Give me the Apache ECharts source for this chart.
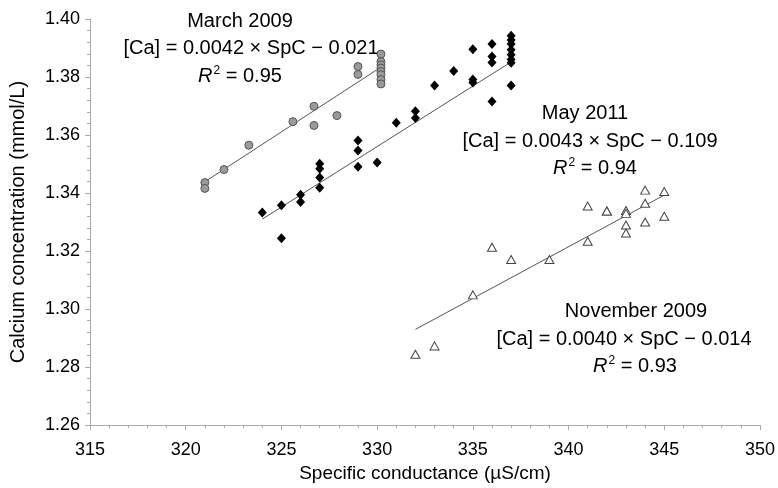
<!DOCTYPE html>
<html>
<head>
<meta charset="utf-8">
<script src="https://cdn.jsdelivr.net/npm/echarts@6/dist/echarts.min.js"></script>
<style>html,body{margin:0;padding:0;background:#fff;}#c{width:778px;height:488px;}</style>
</head>
<body>
<div id="c"></div>
<script>
// March 2009 (grey circles)
var marchX = [321, 321, 322, 323.3, 325.6, 326.7, 326.7, 327.9, 329, 329, 330.2, 330.2, 330.2, 330.2, 330.2, 330.2, 330.2, 330.2];
var marchY = [1.3436, 1.3416, 1.3481, 1.3565, 1.3646, 1.3699, 1.3633, 1.3667, 1.3836, 1.3809, 1.3879, 1.3853, 1.3842, 1.3831, 1.3819, 1.3808, 1.3791, 1.3776];
// May 2011 (black diamonds)
var mayX = [324, 325, 325, 326, 326, 327, 327, 327, 327, 329, 329, 329, 330, 331, 332, 332, 333, 334, 335, 335, 335, 336, 336, 336, 336, 337, 337, 337, 337, 337, 337, 337, 337];
var mayY = [1.3333, 1.3358, 1.3244, 1.3394, 1.3369, 1.3501, 1.3484, 1.3454, 1.3418, 1.3581, 1.3547, 1.3491, 1.3505, 1.3642, 1.3682, 1.3659, 1.3771, 1.3821, 1.3896, 1.3791, 1.3781, 1.3914, 1.3871, 1.3850, 1.3716, 1.3942, 1.3928, 1.3914, 1.3894, 1.3877, 1.3860, 1.3849, 1.3771];
// November 2009 (open triangles)
var novX = [332, 333, 335, 336, 337, 339, 341, 341, 342, 342, 343, 343, 343, 343, 344, 344, 344, 345, 345];
var novY = [1.2844, 1.2873, 1.3049, 1.3213, 1.3171, 1.3171, 1.3234, 1.3355, 1.3338, 1.3338, 1.3340, 1.3330, 1.3290, 1.3262, 1.3410, 1.3365, 1.3300, 1.3405, 1.3320];
// regression line end points
var marchFitX = [321, 330.15], marchFitY = [1.3439, 1.3832];
var mayFitX = [324, 337], mayFitY = [1.3310, 1.3852];
var novFitX = [332, 345], novFitY = [1.2930, 1.3393];
// annotations
var marchText = ['March 2009', '[Ca] = 0.0042 \u00d7 SpC \u2212 0.021', '0.95'];
var mayText = ['May 2011', '[Ca] = 0.0043 \u00d7 SpC \u2212 0.109', '0.94'];
var novText = ['November 2009', '[Ca] = 0.0040 \u00d7 SpC \u2212 0.014', '0.93'];

function zip(a, b) { return a.map(function (v, i) { return [v, b[i]]; }); }

var FONT = 'Liberation Sans, Arial, Helvetica, sans-serif';
var chart = echarts.init(document.getElementById('c'));

function txt(x, y, s) {
  return { type: 'text', x: x, y: y, style: { text: s, font: '20px ' + FONT, fill: '#000', align: 'center', verticalAlign: 'middle' } };
}
function r2(x, y, v) {
  return { type: 'text', x: x, y: y, style: {
    text: '{i|R}{s|2}{n| = ' + v + '}', align: 'center', verticalAlign: 'middle',
    rich: {
      i: { fontFamily: FONT, fontSize: 20, fontStyle: 'italic', fill: '#000' },
      s: { fontFamily: FONT, fontSize: 12, fill: '#000', padding: [0, 0, 10, 1] },
      n: { fontFamily: FONT, fontSize: 20, fill: '#000' }
    } } };
}
function block(xs, ys, t) {
  return [txt(xs[0], ys[0], t[0]), txt(xs[1], ys[1], t[1]), r2(xs[2], ys[2], t[2])];
}

var axisCommon = {
  axisLine: { show: true, lineStyle: { color: '#aaa', width: 1 } },
  axisTick: { show: true, length: 5, lineStyle: { color: '#aaa' } },
  minorTick: { show: true, splitNumber: 5, length: 3, lineStyle: { color: '#aaa' } },
  splitLine: { show: false },
  axisLabel: { color: '#000', fontSize: 18, fontFamily: FONT },
  nameTextStyle: { color: '#000', fontSize: 19, fontFamily: FONT }
};

chart.setOption({
  animation: false,
  backgroundColor: '#fff',
  grid: { left: 90, right: 17, top: 19, bottom: 61 },
  xAxis: Object.assign({}, axisCommon, {
    type: 'value', min: 315, max: 350, interval: 5,
    name: 'Specific conductance (\u00b5S/cm)', nameLocation: 'middle', nameGap: 35,
    axisLabel: Object.assign({}, axisCommon.axisLabel, { margin: 16 })
  }),
  yAxis: Object.assign({}, axisCommon, {
    type: 'value', min: 1.26, max: 1.40, interval: 0.02,
    name: 'Calcium concentration (mmol/L)', nameLocation: 'middle', nameGap: 62,
    nameTextStyle: { color: '#000', fontSize: 20, fontFamily: FONT },
    axisLabel: Object.assign({}, axisCommon.axisLabel, { margin: 10, formatter: function (v) { return v.toFixed(2); } })
  }),
  series: [
    { type: 'line', data: zip(marchFitX, marchFitY), symbol: 'none', lineStyle: { color: '#555', width: 1 }, z: 1 },
    { type: 'line', data: zip(mayFitX, mayFitY), symbol: 'none', lineStyle: { color: '#555', width: 1 }, z: 1 },
    { type: 'line', data: zip(novFitX, novFitY), symbol: 'none', lineStyle: { color: '#555', width: 1 }, z: 1 },
    { type: 'scatter', data: zip(marchX, marchY), symbol: 'circle', symbolSize: 8,
      itemStyle: { color: '#9a9a9a', borderColor: '#555', borderWidth: 1, opacity: 1 }, z: 3 },
    { type: 'scatter', data: zip(mayX, mayY), symbol: 'diamond', symbolSize: [9, 10],
      itemStyle: { color: '#000', opacity: 1 }, z: 3 },
    { type: 'scatter', data: zip(novX, novY), symbol: 'triangle', symbolSize: [9, 8],
      itemStyle: { color: '#fff', borderColor: '#444', borderWidth: 1, opacity: 1 }, z: 3 }
  ],
  graphic: [].concat(
    block([240, 251, 240], [21, 48, 76], marchText),
    block([585, 590, 595], [113, 141, 168], mayText),
    block([636, 624, 635], [311, 339, 366], novText))
});
</script>
</body>
</html>
